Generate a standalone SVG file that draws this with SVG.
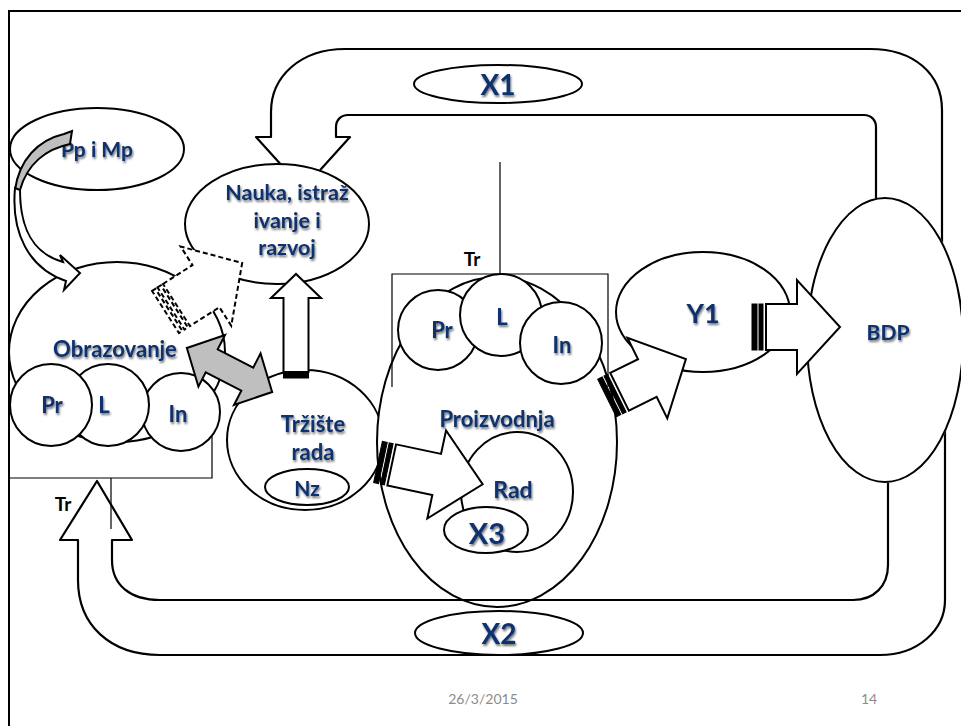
<svg xmlns="http://www.w3.org/2000/svg" width="961" height="726" viewBox="0 0 961 726">
<style>
.s{fill:#fff;stroke:#000;stroke-width:2}
.ln{fill:none;stroke:#000;stroke-width:1.2}
.lp{fill:none;stroke:#000;stroke-width:2.2;stroke-linejoin:round}
.ar{fill:#fff;stroke:#000;stroke-width:2;stroke-linejoin:miter}
.gr{fill:#bfbfbf;stroke:#000;stroke-width:2;stroke-linejoin:miter}
.st{fill:#000;stroke:#000;stroke-width:1}
.da{fill:#fff;stroke:#000;stroke-width:2;stroke-dasharray:5 3}
.lbl{font-family:Lato,"Liberation Sans",sans-serif;font-weight:bold;fill:#10306e;text-anchor:middle;filter:url(#sh)}
.blk{font-family:Lato,"Liberation Sans",sans-serif;font-weight:bold;fill:#000;text-anchor:middle;font-size:19px}
.foot{font-family:Lato,"Liberation Sans",sans-serif;font-size:14px;fill:#8c8c8c;text-anchor:middle}
</style>
<defs>
<filter id="sh" x="-20%" y="-30%" width="140%" height="170%">
<feGaussianBlur in="SourceAlpha" stdDeviation="1.1"/>
<feOffset dx="1.3" dy="1.5" result="b"/>
<feFlood flood-color="#000" flood-opacity="0.55"/>
<feComposite in2="b" operator="in"/>
<feMerge><feMergeNode/><feMergeNode in="SourceGraphic"/></feMerge>
</filter>
<mask id="lm" maskUnits="userSpaceOnUse" x="0" y="0" width="961" height="726">
<rect width="961" height="726" fill="#fff"/>
<ellipse cx="277" cy="224" rx="92" ry="60" fill="#000" stroke="#000" stroke-width="2"/>
<ellipse cx="885" cy="340" rx="78" ry="142" fill="#000" stroke="#000" stroke-width="2"/>
</mask>
</defs>
<rect width="961" height="726" fill="#fff"/>
<g id="frame"><path d="M8 11 H961 M9 11 V726" fill="none" stroke="#000" stroke-width="2"/></g>

<g id="pp-mp"><ellipse class="s" cx="97" cy="149" rx="87" ry="41"/><text class="lbl" x="97" y="157" font-size="21">Pp i Mp</text></g>
<g id="nauka"><ellipse class="s" cx="277" cy="224" rx="92" ry="60"/>
<text class="lbl" x="287" y="200" font-size="21.5">Nauka, istraž</text>
<text class="lbl" x="287" y="228" font-size="21.5">ivanje i</text>
<text class="lbl" x="287" y="255" font-size="21.5">razvoj</text></g>
<g id="obrazovanje"><ellipse class="s" cx="117" cy="352" rx="108" ry="90"/><text class="lbl" x="115" y="357" font-size="22">Obrazovanje</text></g>
<g id="tr-left"><path class="ln" d="M9 478 H212 V400 M111 478 V529"/><text class="blk" x="63" y="511">Tr</text></g>
<g id="obr-in"><circle class="s" cx="181" cy="412" r="39"/><text class="lbl" x="178" y="422" font-size="22">In</text></g>
<g id="obr-l"><circle class="s" cx="108" cy="405" r="41"/><text class="lbl" x="104" y="413" font-size="22">L</text></g>
<g id="obr-pr"><circle class="s" cx="51" cy="405" r="41"/><text class="lbl" x="52" y="413" font-size="22">Pr</text></g>

<g id="trziste"><ellipse class="s" cx="305" cy="440" rx="78" ry="70"/>
<text class="lbl" x="313" y="432" font-size="22">Tržište</text>
<text class="lbl" x="313" y="460" font-size="22">rada</text></g>
<g id="nz"><ellipse class="s" cx="307" cy="487" rx="42" ry="18"/><text class="lbl" x="307" y="496" font-size="21">Nz</text></g>

<g id="proizvodnja"><ellipse class="s" cx="497" cy="442" rx="120" ry="165"/><text class="lbl" x="497" y="427" font-size="22">Proizvodnja</text></g>
<g id="tr-mid"><path class="ln" d="M392 387 V274 H608 V387 M500 162 V274"/><text class="blk" x="472" y="266">Tr</text></g>
<g id="pro-pr"><circle class="s" cx="438" cy="330" r="40"/><text class="lbl" x="442" y="338" font-size="22">Pr</text></g>
<g id="pro-l"><circle class="s" cx="501" cy="315" r="41"/><text class="lbl" x="502" y="325" font-size="22">L</text></g>
<g id="pro-in"><circle class="s" cx="561" cy="343" r="41"/><text class="lbl" x="562" y="353" font-size="22">In</text></g>
<g id="rad"><ellipse class="s" cx="517" cy="492" rx="56" ry="60"/><text class="lbl" x="513" y="498" font-size="23">Rad</text></g>
<g id="x3"><ellipse class="s" cx="486" cy="530" rx="42" ry="23"/><text class="lbl" x="487" y="544" font-size="29">X3</text></g>
<g id="y1"><ellipse class="s" cx="703" cy="312" rx="87" ry="60"/><text class="lbl" x="703" y="323" font-size="27">Y1</text></g>
<g id="bdp"><ellipse class="s" cx="885" cy="340" rx="78" ry="142"/><text class="lbl" x="888" y="340" font-size="21">BDP</text></g>

<g id="connectors">
<path class="lp" mask="url(#lm)" d="M942 300 L942 110 C942 74 914 49 870 49 L345 49 C301 49 271 76 271 112 L271 137 L256 137 L303 189 L350 137 L336 137 L336 127 C336 120 341 115 348 115 L864 115 C871 115 876 120 876 127 L876 300"/>
<path class="lp" mask="url(#lm)" d="M888 420 L888 565 C888 586 874 600 853 600 L160 600 C130 600 112 585 112 560 L112 540 L132 540 L97 481 L60 540 L78 540 L78 580 C78 625 110 655 160 655 L880 655 C918 655 945 630 945 600 L945 420"/>
<path class="gr" d="M64 134 L72 131 L70 144 C46 149 27 164 20 190 L15 190 C19 160 38 140 64 134 Z"/>
<path class="ar" d="M15 188 C11 232 28 268 66 281 L64 290 L80 273 L60 255 L63 262 C35 254 20 232 20 190 Z"/>
<g transform="translate(165.5 312) rotate(-32.6)">
<rect class="da" x="0" y="-25" width="4" height="50"/><rect class="da" x="6.5" y="-25" width="4" height="50"/>
<path class="da" d="M13 -25 L48 -25 L48 -47 L91 0 L48 47 L48 25 L13 25 Z"/></g>
<path class="gr" transform="translate(229.5 370) rotate(27.3)" d="M-48 0 L-20 -29 L-20 -13 L20 -13 L20 -29 L48 0 L20 29 L20 13 L-20 13 L-20 29 Z"/>
<g transform="translate(296 378) rotate(-90)">
<rect class="st" x="0" y="-12.5" width="2.5" height="25"/><rect class="st" x="3.5" y="-12.5" width="2.5" height="25"/>
<path class="ar" d="M6 -12.5 L80 -12.5 L80 -25 L104 0 L80 25 L80 12.5 L6 12.5 Z"/></g>
<g transform="translate(378 462) rotate(12)">
<rect class="st" x="0" y="-21" width="5" height="42"/><rect class="st" x="7" y="-21" width="4" height="42"/>
<path class="ar" d="M14 -21 L60 -21 L60 -45 L107 0 L60 45 L60 21 L14 21 Z"/></g>
<g transform="translate(607 398) rotate(-26.3)">
<rect class="st" x="0" y="-21" width="5" height="42"/><rect class="st" x="7" y="-21" width="4" height="42"/>
<path class="ar" d="M14 -21 L45 -21 L45 -45 L88 0 L45 45 L45 21 L14 21 Z"/></g>
<g transform="translate(752 327)">
<rect class="st" x="0" y="-23" width="5" height="46"/><rect class="st" x="7" y="-23" width="4" height="46"/>
<path class="ar" d="M14 -23 L45 -23 L45 -47 L88 0 L45 47 L45 23 L14 23 Z"/></g>
</g>

<g id="x1"><ellipse class="s" cx="498" cy="84" rx="84" ry="19"/><text class="lbl" x="498" y="95" font-size="28">X1</text></g>
<g id="x2"><ellipse class="s" cx="499" cy="633" rx="84" ry="22"/><text class="lbl" x="499" y="644" font-size="28">X2</text></g>

<g id="footer"><text class="foot" x="483" y="704">26/3/2015</text><text class="foot" x="869" y="704">14</text></g>
</svg>
